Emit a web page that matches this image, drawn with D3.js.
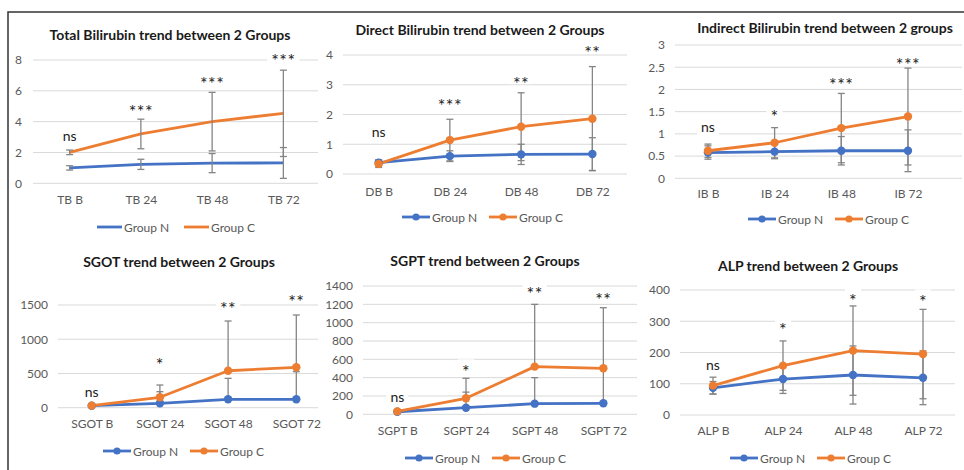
<!DOCTYPE html>
<html>
<head>
<meta charset="utf-8">
<script src="https://cdn.jsdelivr.net/npm/d3@7"></script>
<style>
  body { margin: 0; background: #fff; }
  svg { display: block; font-family: Lato, "Noto Sans", sans-serif; }
</style>
</head>
<body>
<svg id="chart" width="964" height="470"></svg>
<script>
// ---- data ----
const tbCats = ['TB B', 'TB 24', 'TB 48', 'TB 72'];
const tbN = [1.0, 1.23, 1.31, 1.32];
const tbNErr = [0.14, 0.33, 0.62, 1.0];
const tbC = [2.01, 3.2, 4.0, 4.54];
const tbCErr = [0.15, 0.96, 1.9, 2.8];
const tbSig = ['ns', '***', '***', '***'];
const tbSigY = [3.0, 4.9, 6.7, 8.2];
const tbTicks = [0, 2, 4, 6, 8];

const dbCats = ['DB B', 'DB 24', 'DB 48', 'DB 72'];
const dbN = [0.38, 0.6, 0.66, 0.67];
const dbNErr = [0.1, 0.18, 0.34, 0.55];
const dbC = [0.34, 1.14, 1.59, 1.86];
const dbCErr = [0.12, 0.7, 1.14, 1.75];
const dbSig = ['ns', '***', '**', '**'];
const dbSigY = [1.38, 2.43, 3.16, 4.19];
const dbTicks = [0, 1, 2, 3, 4];

const ibCats = ['IB B', 'IB 24', 'IB 48', 'IB 72'];
const ibN = [0.58, 0.6, 0.62, 0.62];
const ibNErr = [0.15, 0.16, 0.32, 0.47];
const ibC = [0.62, 0.8, 1.13, 1.39];
const ibCErr = [0.15, 0.34, 0.78, 1.09];
const ibSig = ['ns', '*', '***', '***'];
const ibSigY = [1.13, 1.46, 2.19, 2.65];
const ibTicks = [0, 0.5, 1, 1.5, 2, 2.5, 3];

const sgotCats = ['SGOT B', 'SGOT 24', 'SGOT 48', 'SGOT 72'];
const sgotN = [29, 64, 123, 123];
const sgotNErr = [10, 170, 306, 403];
const sgotC = [30, 152, 540, 590];
const sgotCErr = [10, 179, 726, 764];
const sgotSig = ['ns', '*', '**', '**'];
const sgotSigY = [219, 682, 1500, 1598];
const sgotTicks = [0, 500, 1000, 1500];

const sgptCats = ['SGPT B', 'SGPT 24', 'SGPT 48', 'SGPT 72'];
const sgptN = [28, 72, 116, 120];
const sgptNErr = [10, 170, 284, 390];
const sgptC = [32, 175, 520, 502];
const sgptCErr = [10, 218, 680, 661];
const sgptSig = ['ns', '*', '**', '**'];
const sgptSigY = [181, 502, 1356, 1291];
const sgptTicks = [0, 200, 400, 600, 800, 1000, 1200, 1400];

const alpCats = ['ALP B', 'ALP 24', 'ALP 48', 'ALP 72'];
const alpN = [87, 115, 128, 119];
const alpNErr = [20, 46, 93, 86];
const alpC = [94, 158, 206, 195];
const alpCErr = [27, 79, 143, 143];
const alpSig = ['ns', '*', '*', '*'];
const alpSigY = [157, 285, 379, 373];
const alpTicks = [0, 100, 200, 300, 400];

const seriesNames = ['Group N', 'Group C'];
const colors = ['#4472C4', '#ED7D31'];

// ---- layout of the six panels ----
const panels = [
  { title: 'Total Bilirubin trend between 2 Groups', cats: tbCats, n: tbN, nErr: tbNErr, c: tbC, cErr: tbCErr,
    sig: tbSig, sigY: tbSigY, ticks: tbTicks, errDir: 'both', markers: false,
    x0: 34, x1: 319, gx0: 33, gx1: 318, yBot: 183.3, yTop: 60, tx: 170, ty: 34, yLabX: 22, xLabY: 200, legX: 97, legY: 227, legLen: 25 },
  { title: 'Direct Bilirubin trend between 2 Groups', cats: dbCats, n: dbN, nErr: dbNErr, c: dbC, cErr: dbCErr,
    sig: dbSig, sigY: dbSigY, ticks: dbTicks, errDir: 'both', markers: true,
    x0: 343, x1: 628, gx0: 343, gx1: 627, yBot: 174, yTop: 55, tx: 480, ty: 29, yLabX: 333, xLabY: 192, legX: 402, legY: 217, legLen: 28 },
  { title: 'Indirect Bilirubin trend between 2 groups', cats: ibCats, n: ibN, nErr: ibNErr, c: ibC, cErr: ibCErr,
    sig: ibSig, sigY: ibSigY, ticks: ibTicks, errDir: 'both', markers: true,
    x0: 674.6, x1: 941.3, gx0: 675, gx1: 962, yBot: 178.3, yTop: 45, tx: 825, ty: 27, yLabX: 665, xLabY: 194, legX: 748, legY: 219, legLen: 28 },
  { title: 'SGOT trend between 2 Groups', cats: sgotCats, n: sgotN, nErr: sgotNErr, c: sgotC, cErr: sgotCErr,
    sig: sgotSig, sigY: sgotSigY, ticks: sgotTicks, errDir: 'plus', markers: true,
    x0: 57.6, x1: 330.4, gx0: 58, gx1: 318, yBot: 407.7, yTop: 305, tx: 179, ty: 261, yLabX: 48, xLabY: 424, legX: 103, legY: 451, legLen: 28 },
  { title: 'SGPT trend between 2 Groups', cats: sgptCats, n: sgptN, nErr: sgptNErr, c: sgptC, cErr: sgptCErr,
    sig: sgptSig, sigY: sgptSigY, ticks: sgptTicks, errDir: 'plus', markers: true,
    x0: 363, x1: 637.7, gx0: 363, gx1: 637, yBot: 414.3, yTop: 286, tx: 485, ty: 260, yLabX: 353, xLabY: 431, legX: 405, legY: 458, legLen: 28 },
  { title: 'ALP trend between 2 Groups', cats: alpCats, n: alpN, nErr: alpNErr, c: alpC, cErr: alpCErr,
    sig: alpSig, sigY: alpSigY, ticks: alpTicks, errDir: 'both', markers: true,
    x0: 678, x1: 958, gx0: 680, gx1: 955, yBot: 415, yTop: 290, tx: 808, ty: 265, yLabX: 670, xLabY: 431, legX: 730, legY: 458, legLen: 28 }
];

const svg = d3.select('#chart');

// outer frame: only top and left edges show
svg.append('path')
  .attr('d', 'M8,470 L8,12 L964,12')
  .attr('fill', 'none')
  .attr('stroke', '#333')
  .attr('stroke-width', 1.5);

function drawPanel(p) {
  const g = svg.append('g');
  const yMax = p.ticks[p.ticks.length - 1];
  const x = d3.scalePoint().domain(p.cats).range([p.x0, p.x1]).padding(0.5);
  const y = d3.scaleLinear().domain([0, yMax]).range([p.yBot, p.yTop]);

  // title
  g.append('text')
    .attr('x', p.tx).attr('y', p.ty)
    .attr('text-anchor', 'middle').attr('dominant-baseline', 'central')
    .attr('font-size', 14).attr('font-weight', 700).attr('fill', '#1a1a1a')
    .text(p.title);

  // gridlines
  g.selectAll('.grid').data(p.ticks).join('line')
    .attr('x1', p.gx0).attr('x2', p.gx1)
    .attr('y1', d => y(d)).attr('y2', d => y(d))
    .attr('stroke', '#d9d9d9').attr('stroke-width', 1);

  // y axis labels
  const yAxis = g.append('g')
    .attr('transform', `translate(${p.yLabX},0)`)
    .call(d3.axisLeft(y).tickValues(p.ticks).tickSize(0).tickPadding(0).tickFormat(d3.format('')));
  yAxis.select('.domain').remove();
  yAxis.selectAll('text').attr('font-family', 'Lato, sans-serif').attr('font-size', 12).attr('fill', '#595959');

  // x axis labels
  const xAxis = g.append('g')
    .attr('transform', `translate(0,${p.xLabY})`)
    .call(d3.axisBottom(x).tickSize(0).tickPadding(0));
  xAxis.select('.domain').remove();
  xAxis.selectAll('text').attr('y', 0).attr('dy', '0.35em')
    .attr('font-family', 'Lato, sans-serif').attr('font-size', 12).attr('fill', '#595959');

  // significance labels with white boxes over the gridlines
  const sigG = g.append('g');
  p.sig.forEach((s, i) => {
    const isStar = s.indexOf('*') === 0;
    const t = sigG.append('text')
      .attr('x', x(p.cats[i]))
      .attr('y', y(p.sigY[i]) + (isStar ? 10 : 4))
      .attr('text-anchor', 'middle')
      .attr('font-size', isStar ? 18 : 14)
      .attr('letter-spacing', isStar ? 0.5 : 0)
      .attr('fill', '#222')
      .text(s);
    const b = t.node().getBBox();
    sigG.insert('rect', 'text')
      .attr('x', b.x - 4).attr('y', b.y - 1)
      .attr('width', b.width + 8).attr('height', isStar ? b.height * 0.6 : b.height + 2)
      .attr('fill', '#fff');
  });

  const series = [
    { vals: p.n, err: p.nErr, color: colors[0] },
    { vals: p.c, err: p.cErr, color: colors[1] }
  ];
  const line = d3.line().x((d, i) => x(p.cats[i])).y(d => y(d));

  series.forEach(s => {
    g.append('path').datum(s.vals)
      .attr('d', line)
      .attr('fill', 'none')
      .attr('stroke', s.color)
      .attr('stroke-width', 2.8)
      .attr('stroke-linejoin', 'round');
  });

  // error bars
  series.forEach(s => {
    s.vals.forEach((v, i) => {
      const cx = x(p.cats[i]);
      const top = y(v + s.err[i]);
      const bot = p.errDir === 'both' ? y(v - s.err[i]) : y(v);
      g.append('line').attr('x1', cx).attr('x2', cx).attr('y1', top).attr('y2', bot)
        .attr('stroke', '#858585').attr('stroke-width', 1.3);
      const caps = p.errDir === 'both' ? [top, bot] : [top];
      caps.forEach(cy => {
        g.append('line').attr('x1', cx - 3.5).attr('x2', cx + 3.5).attr('y1', cy).attr('y2', cy)
          .attr('stroke', '#858585').attr('stroke-width', 1.3);
      });
    });
  });

  if (p.markers) {
    series.forEach(s => {
      g.selectAll(null).data(s.vals).join('circle')
        .attr('cx', (d, i) => x(p.cats[i]))
        .attr('cy', d => y(d))
        .attr('r', 4.2)
        .attr('fill', s.color);
    });
  }

  // legend
  seriesNames.forEach((name, i) => {
    const lx = p.legX + i * 87;
    g.append('line')
      .attr('x1', lx).attr('x2', lx + p.legLen)
      .attr('y1', p.legY).attr('y2', p.legY)
      .attr('stroke', colors[i]).attr('stroke-width', 2.8);
    if (p.markers) {
      g.append('circle').attr('cx', lx + p.legLen / 2).attr('cy', p.legY).attr('r', 3.6).attr('fill', colors[i]);
    }
    g.append('text')
      .attr('x', lx + p.legLen + 2).attr('y', p.legY)
      .attr('dominant-baseline', 'central')
      .attr('font-size', 12).attr('fill', '#595959')
      .text(name);
  });
}

panels.forEach(drawPanel);
</script>
</body>
</html>
